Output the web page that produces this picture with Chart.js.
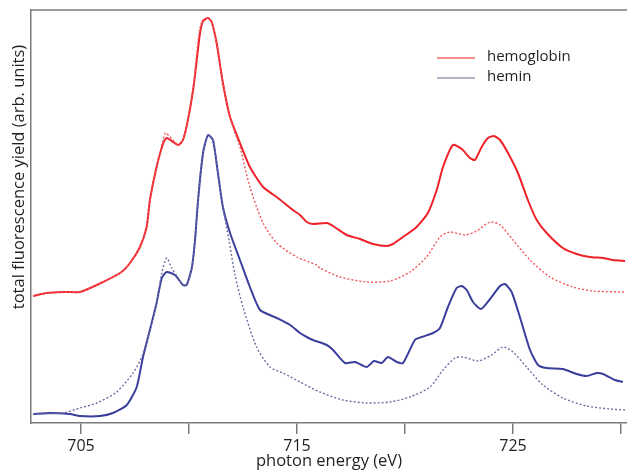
<!DOCTYPE html>
<html>
<head>
<meta charset="utf-8">
<script src="https://cdn.jsdelivr.net/npm/chart.js@4/dist/chart.umd.min.js"></script>
<style>
  html, body { margin: 0; padding: 0; background: #fff; }
  #wrap { width: 627px; height: 471px; position: relative; }
</style>
</head>
<body>
<div id="wrap"><canvas id="c" width="627" height="471"></canvas></div>
<script>
// ---- data (photon energy in eV, yield in arbitrary units) ----
const seriesNames = ['hemoglobin', 'hemin'];
const xTitle = 'photon energy (eV)';
const yTitle = 'total fluorescence yield (arb. units)';
const energyTicks = [705, 710, 715, 720, 725, 730];
const tickLabels = ['705', '', '715', '', '725', ''];

const hemoglobinE = [702.78,703.41,704.17,704.95,705.73,706.81,707.27,707.73,708.04,708.19,708.50,708.81,708.97,709.50,709.72,709.95,710.19,710.36,710.51,710.65,710.88,711.05,711.28,711.57,711.90,712.36,712.82,713.43,714.06,714.81,715.14,715.45,715.74,716.38,716.67,717.30,717.92,718.52,719.15,719.44,719.91,720.54,721.06,721.47,721.76,722.22,722.63,723.01,723.24,723.55,723.84,724.12,724.40,724.77,725.23,725.69,726.10,726.56,727.31,727.95,728.56,729.17,729.63,730.19];
const hemoglobin = [1.27,1.30,1.31,1.31,1.38,1.50,1.60,1.76,1.96,2.23,2.56,2.80,2.85,2.78,2.83,3.03,3.33,3.63,3.90,4.02,4.05,4.01,3.80,3.40,3.06,2.80,2.56,2.36,2.26,2.13,2.08,2.01,1.99,2.00,1.97,1.88,1.84,1.79,1.77,1.79,1.86,1.96,2.10,2.33,2.56,2.78,2.74,2.65,2.63,2.76,2.85,2.87,2.83,2.70,2.50,2.23,2.03,1.90,1.75,1.69,1.66,1.65,1.63,1.62];

const hemoglobinRefE = [702.78,703.41,704.17,704.95,705.73,706.81,707.27,707.73,708.04,708.19,708.50,708.81,708.92,709.50,709.72,709.95,710.19,710.36,710.51,710.65,710.88,711.05,711.28,711.57,711.90,712.13,712.36,712.82,713.43,714.06,714.99,715.91,716.06,716.99,718.23,719.31,720.23,721.00,721.62,722.08,722.78,723.32,723.94,724.40,725.00,725.79,726.71,727.78,728.70,730.19];
const hemoglobinRef = [1.27,1.30,1.31,1.31,1.38,1.50,1.60,1.76,1.96,2.23,2.56,2.83,2.90,2.78,2.83,3.03,3.33,3.70,3.95,4.03,4.05,4.01,3.80,3.40,3.06,2.90,2.76,2.36,2.00,1.80,1.66,1.58,1.55,1.46,1.41,1.42,1.51,1.66,1.86,1.91,1.88,1.92,2.01,1.98,1.83,1.63,1.46,1.36,1.32,1.31];

const heminE = [702.78,703.56,704.49,704.95,705.88,706.48,707.12,707.58,707.87,708.19,708.50,708.74,708.97,709.35,709.72,709.89,710.13,710.28,710.42,710.65,710.88,711.11,711.34,711.57,711.90,712.36,712.82,713.29,714.06,714.68,715.14,715.45,715.74,716.38,716.67,717.22,717.69,718.23,718.56,718.92,719.21,719.62,719.91,720.46,720.77,721.30,721.62,721.99,722.39,722.63,722.86,723.15,723.52,723.94,724.40,724.63,724.94,725.32,725.79,726.16,726.56,727.31,727.95,728.41,728.88,729.17,729.72,730.09];
const hemin = [0.09,0.10,0.09,0.07,0.07,0.10,0.18,0.36,0.66,0.93,1.20,1.45,1.51,1.48,1.38,1.38,1.55,1.83,2.23,2.70,2.88,2.83,2.50,2.16,1.90,1.63,1.36,1.13,1.05,0.98,0.90,0.86,0.83,0.78,0.73,0.60,0.61,0.56,0.62,0.60,0.66,0.61,0.60,0.83,0.86,0.90,0.95,1.16,1.35,1.37,1.33,1.21,1.14,1.24,1.37,1.39,1.31,1.06,0.73,0.58,0.55,0.54,0.49,0.47,0.50,0.49,0.43,0.41];

const heminRefE = [702.78,704.17,704.95,705.73,706.65,707.41,707.81,708.19,708.50,708.74,708.97,709.20,709.50,709.72,709.89,710.13,710.28,710.42,710.65,710.88,711.11,711.34,711.57,711.85,712.13,712.50,713.13,713.75,714.35,715.14,716.06,717.13,718.23,719.31,720.23,721.16,721.76,722.31,722.69,723.38,724.01,724.54,725.00,725.63,726.39,727.31,728.41,729.49,730.19];
const heminRef = [0.09,0.10,0.15,0.20,0.31,0.50,0.66,0.93,1.20,1.50,1.65,1.55,1.45,1.38,1.38,1.55,1.83,2.23,2.70,2.88,2.83,2.50,2.16,1.83,1.48,1.16,0.76,0.56,0.50,0.41,0.31,0.23,0.20,0.21,0.26,0.36,0.53,0.65,0.66,0.62,0.68,0.76,0.71,0.56,0.38,0.25,0.17,0.14,0.13];

// ---- styling ----
const RED = '#ee2229';
const BLUE = '#3a3f9c';
const RED_DOT = '#f0575c';
const BLUE_DOT = '#6d6ea6';
const TEXT = '#231f20';
const FONT = '"Open Sans", "Noto Sans", sans-serif';

const pts = (xs, ys) => xs.map((x, i) => ({ x: x, y: ys[i] }));

const legendPlugin = {
  id: 'inlineLegend',
  afterDraw(chart) {
    const ctx = chart.ctx;
    const a = chart.chartArea;
    const entries = [
      { name: seriesNames[0], color: '#f46a6e' },
      { name: seriesNames[1], color: '#9a9ab8' }
    ];
    ctx.save();
    ctx.font = '15px ' + FONT;
    ctx.textBaseline = 'middle';
    entries.forEach((e, i) => {
      const y = a.top + 48 + i * 20;
      ctx.strokeStyle = e.color;
      ctx.lineWidth = 1.5;
      ctx.beginPath();
      ctx.moveTo(a.left + 406, y);
      ctx.lineTo(a.left + 444, y);
      ctx.stroke();
      ctx.fillStyle = TEXT;
      ctx.fillText(e.name, a.left + 456, y - 1);
    });
    ctx.restore();
  }
};

const framePlugin = {
  id: 'frameTop',
  afterDraw(chart) {
    const ctx = chart.ctx;
    const a = chart.chartArea;
    ctx.save();
    ctx.strokeStyle = '#7a7a7a';
    ctx.lineWidth = 1.5;
    ctx.beginPath();
    ctx.moveTo(a.left, a.top);
    ctx.lineTo(a.right, a.top);
    ctx.stroke();
    // y-axis title (placed slightly above the centre, as in the original figure)
    ctx.translate(a.left - 12, a.top + 167);
    ctx.rotate(-Math.PI / 2);
    ctx.font = '16.5px ' + FONT;
    ctx.fillStyle = TEXT;
    ctx.textAlign = 'center';
    ctx.textBaseline = 'middle';
    ctx.fillText(yTitle, 0, 0);
    ctx.restore();
  }
};

new Chart(document.getElementById('c'), {
  type: 'line',
  data: {
    datasets: [
      { label: seriesNames[0] + ' ref', data: pts(hemoglobinRefE, hemoglobinRef), borderColor: RED_DOT, borderWidth: 1.4, borderDash: [2, 2], pointRadius: 0, tension: 0.25, fill: false },
      { label: seriesNames[1] + ' ref', data: pts(heminRefE, heminRef), borderColor: BLUE_DOT, borderWidth: 1.4, borderDash: [2, 2], pointRadius: 0, tension: 0.25, fill: false },
      { label: seriesNames[0], data: pts(hemoglobinE, hemoglobin), borderColor: RED, borderWidth: 2, pointRadius: 0, tension: 0.2, fill: false },
      { label: seriesNames[1], data: pts(heminE, hemin), borderColor: BLUE, borderWidth: 2, pointRadius: 0, tension: 0.2, fill: false }
    ]
  },
  options: {
    responsive: false,
    animation: false,
    layout: { padding: { top: 10, right: 0, left: 31, bottom: 0 } },
    plugins: { legend: { display: false }, tooltip: { enabled: false } },
    scales: {
      x: {
        type: 'linear',
        min: 702.685,
        max: 730.28,
        afterBuildTicks: (s) => { s.ticks = energyTicks.map(v => ({ value: v })); },
        afterFit: (s) => { s.height = 48; },
        ticks: {
          autoSkip: false,
          maxRotation: 0,
          padding: 3,
          color: TEXT,
          font: { family: FONT, size: 16 },
          callback: (v) => { const i = energyTicks.indexOf(v); return i >= 0 ? tickLabels[i] : ''; }
        },
        grid: { display: true, drawOnChartArea: false, drawTicks: true, tickLength: 11, color: '#7a7a7a', lineWidth: 1.5 },
        border: { display: true, color: '#7a7a7a', width: 1.5 },
        title: { display: true, text: xTitle, color: TEXT, font: { family: FONT, size: 16.5 }, padding: { top: 0, bottom: 0 } }
      },
      y: {
        min: 0,
        max: 4.13,
        afterFit: (s) => { s.width = 0; },
        ticks: { display: false },
        grid: { display: false, drawTicks: false },
        border: { display: true, color: '#7a7a7a', width: 1.5 },
        title: { display: false }
      }
    }
  },
  plugins: [legendPlugin, framePlugin]
});
</script>
</body>
</html>
